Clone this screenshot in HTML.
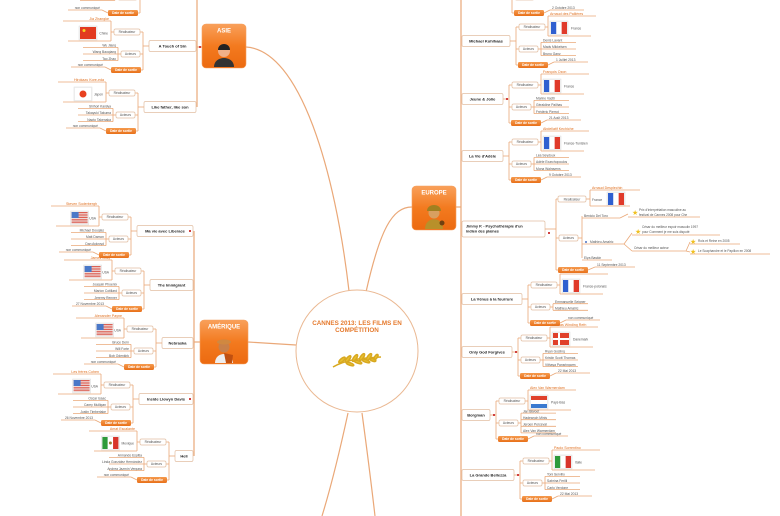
<!DOCTYPE html>
<html><head><meta charset="utf-8"><style>
html,body{margin:0;padding:0;background:#fff;width:780px;height:516px;overflow:hidden}
svg{display:block;font-family:"Liberation Sans",sans-serif}
</style></head><body>
<svg id="s" width="780" height="516" viewBox="0 0 780 516" xmlns="http://www.w3.org/2000/svg">
<defs>
<linearGradient id="og" x1="0" y1="0" x2="0" y2="1"><stop offset="0" stop-color="#f9a05a"/><stop offset="0.5" stop-color="#f37a1f"/><stop offset="1" stop-color="#ec6a10"/></linearGradient>
<linearGradient id="db" x1="0" y1="0" x2="0" y2="1"><stop offset="0" stop-color="#f59a4e"/><stop offset="1" stop-color="#e8701a"/></linearGradient>
</defs>
<g fill="none" stroke="#eaa878" stroke-width="1.2">
<path d="M349,291 C335,170 300,50 246,47"/>
<path d="M366,292 C380,230 392,207 412,207"/>
<path d="M296,345 L248,342"/>
<path d="M348,413 C340,450 330,490 322,516"/>
<path d="M362,413 C367,450 372,490 375,516"/>
<line x1="197" y1="0" x2="197" y2="107"/><line x1="197" y1="47" x2="202" y2="47"/>
<line x1="194" y1="231" x2="194" y2="456"/><line x1="194" y1="342" x2="200" y2="342"/>
<line x1="461" y1="0" x2="461" y2="516"/><line x1="456" y1="207" x2="461" y2="207"/>
</g>
<circle cx="357" cy="351" r="61" fill="#fff" stroke="#eab892" stroke-width="1"/>
<text x="357" y="325" font-size="6.3" font-weight="bold" fill="#e57a2e" text-anchor="middle">CANNES 2013: LES FILMS EN</text>
<text x="357" y="332" font-size="6.3" font-weight="bold" fill="#e57a2e" text-anchor="middle">COMPÉTITION</text>
<g stroke="#d8a820" stroke-width="1.5" fill="#e8c030">
<path d="M333,367 C345,360 360,358 381,357" fill="none"/>
<ellipse cx="342" cy="360" rx="4" ry="1.5" transform="rotate(-40 342 360)"/>
<ellipse cx="348" cy="359" rx="4" ry="1.5" transform="rotate(-50 348 359)"/>
<ellipse cx="355" cy="358" rx="4" ry="1.5" transform="rotate(-55 355 358)"/>
<ellipse cx="362" cy="357" rx="4" ry="1.5" transform="rotate(-55 362 357)"/>
<ellipse cx="369" cy="357" rx="4" ry="1.5" transform="rotate(-55 369 357)"/>
<ellipse cx="376" cy="357" rx="3" ry="1.3" transform="rotate(-55 376 357)"/>
<ellipse cx="350" cy="364" rx="4" ry="1.3" transform="rotate(20 350 364)"/>
<ellipse cx="358" cy="362" rx="4" ry="1.3" transform="rotate(20 358 362)"/>
<ellipse cx="366" cy="361" rx="4" ry="1.3" transform="rotate(20 366 361)"/>
<ellipse cx="373" cy="360" rx="3" ry="1.2" transform="rotate(20 373 360)"/>
</g>
</svg>
<script>
const S=document.getElementById('s'),NS='http://www.w3.org/2000/svg';
function el(t,a,txt){const e=document.createElementNS(NS,t);for(const k in a)e.setAttribute(k,a[k]);if(txt!==undefined)e.textContent=txt;S.appendChild(e);return e;}
const LC='#eaa878',BC='#e2bfa3';
function L(x1,y1,x2,y2,c){el('line',{x1,y1,x2,y2,stroke:c||LC,'stroke-width':0.8});}
function R(x,y,w,h,f,s){el('rect',{x,y,width:w,height:h,rx:1.5,fill:f||'#fff',stroke:s||BC,'stroke-width':0.7});}
function T(x,y,s,o){o=o||{};el('text',{x,y,'font-size':o.fs||3.6,fill:o.c||'#555','font-weight':o.b?'bold':'normal','text-anchor':o.a||'start'},s);}
function flag(x,y,k){const w=16,h=12;
 el('rect',{x:x-1,y:y-1,width:w+2,height:h+2,fill:'#f2f2f2',stroke:'#ddd','stroke-width':0.5});
 if(k=='fr'||k=='it'||k=='mx'){const c=k=='fr'?['#2f5fd0','#fff','#e03a2a']:['#2e9a3a','#fff','#d8342a'];for(let i=0;i<3;i++)el('rect',{x:x+i*w/3,y,width:w/3,height:h,fill:c[i]});if(k=='mx')el('circle',{cx:x+8,cy:y+6,r:1.5,fill:'#9a7a30'});}
 else if(k=='us'){for(let i=0;i<7;i++)el('rect',{x,y:y+i*h/7,width:w,height:h/14,fill:'#d8483a'});el('rect',{x,y,width:7,height:6,fill:'#4a78c8'});}
 else if(k=='cn'){el('rect',{x,y,width:w,height:h,fill:'#e23a20'});el('circle',{cx:x+4,cy:y+3.5,r:1.5,fill:'#f8d020'});}
 else if(k=='jp'){el('rect',{x,y,width:w,height:h,fill:'#fff'});el('circle',{cx:x+8,cy:y+6,r:3.5,fill:'#e8401f'});}
 else if(k=='dk'){el('rect',{x,y,width:w,height:h,fill:'#e0402a'});el('rect',{x:x+5,y,width:2,height:h,fill:'#fff'});el('rect',{x,y:y+5,width:w,height:2,fill:'#fff'});}
 else if(k=='nl'){el('rect',{x,y,width:w,height:4,fill:'#e0402a'});el('rect',{x,y:y+4,width:w,height:4,fill:'#fff'});el('rect',{x,y:y+8,width:w,height:4,fill:'#3a7ad0'});}
}
function film(sp,sd,y,title,w,dir,country,fk,actors,date,lines){
 const X=(d,ww)=>sd>0?sp+d:sp-d-(ww||0);
 const A=sd>0?'start':'end';
 const fx=X(1,w);
 R(fx,y-5.5,w,11);
 T(fx+w/2,y+1.4,title,{b:1,fs:4,c:'#222',a:'middle'});
 const b=1+w+6;
 L(X(1+w),y,X(b),y);
 L(X(b),y-14,X(b),y+24);
 L(X(b),y-14,X(b+3),y-14);
 R(X(b+3,26),y-17,26,6);T(X(b+3,26)+13,y-12.8,'Réalisateur',{a:'middle',fs:3.3});
 L(X(b+29),y-14,X(b+32),y-14);L(X(b+32),y-25,X(b+32),y-5);
 T(X(b+34),y-26,dir,{c:'#e07020',a:A});L(X(b+32),y-25,X(b+80),y-25);
 if(sd>0){flag(X(b+35,16),y-19,fk);T(X(b+55),y-11.5,country,{a:A,fs:3.3});}
 else{T(X(b+35),y-11.5,country,{a:A,fs:3.3});flag(X(b+35+country.length*1.8+3,16),y-19,fk);}
 L(X(b+32),y-5,X(b+75),y-5);
 L(X(b),y+8,X(b+3),y+8);
 R(X(b+3,19),y+5,19,6);T(X(b+3,19)+9.5,y+9.2,'Acteurs',{a:'middle',fs:3.3});
 const n=actors.length,y0=y+8-(n-1)*3.3;
 L(X(b+22),y+8,X(b+25),y+8);L(X(b+25),y0,X(b+25),y0+(n-1)*6.6);
 actors.forEach((a,i)=>{const yy=y0+i*6.6;T(X(b+27),yy-0.8,a,{a:A,fs:3.3});L(X(b+25),yy,X(b+60),yy);});
 L(X(b),y+24,X(b+2),y+24);
 el('rect',{x:X(b+2,30),y:y+21,width:30,height:6,rx:1.5,fill:'url(#db)'});
 T(X(b+2,30)+15,y+25.2,'Date de sortie',{a:'middle',fs:3.3,c:'#fff',b:1});
 L(X(b+32),y+24,X(b+38),y+21);T(X(b+40),y+20,date,{a:A,fs:3.3});L(X(b+38),y+21,X(b+72),y+21);
}
function cat(x,y,w,h,label,kind){
 el('rect',{x,y,width:w,height:h,rx:4,fill:'url(#og)',stroke:'#f5a060','stroke-width':0.6});
 T(x+w/2,y+8.5,label,{a:'middle',fs:6,c:'#fff',b:1});
 const cx=x+w/2,cy=y+h/2+5;
 if(kind==0){el('path',{d:`M${cx-10},${cy+16} C${cx-10},${cy+4} ${cx+10},${cy+4} ${cx+10},${cy+16}Z`,fill:'#333'});el('circle',{cx,cy:cy,r:6,fill:'#f0b088'});el('path',{d:`M${cx-6},${cy-1} C${cx-6},${cy-9} ${cx+6},${cy-9} ${cx+6},${cy-1}Z`,fill:'#222'});}
 else if(kind==1){el('path',{d:`M${cx-9},${cy+16} C${cx-9},${cy+4} ${cx+9},${cy+4} ${cx+9},${cy+16}Z`,fill:'#eee'});el('path',{d:`M${cx},${cy+6} L${cx+9},${cy+8} L${cx+8},${cy+16} L${cx+2},${cy+16}Z`,fill:'#c05010'});el('circle',{cx,cy:cy,r:5.5,fill:'#c8804a'});el('ellipse',{cx,cy:cy-5,rx:7,ry:2.5,fill:'#d08840'});}
 else {el('path',{d:`M${cx-9},${cy+16} C${cx-9},${cy+3} ${cx+9},${cy+3} ${cx+9},${cy+16}Z`,fill:'#b8902a'});el('circle',{cx,cy:cy,r:5.5,fill:'#d8a060'});el('path',{d:`M${cx-7},${cy-2} C${cx-7},${cy-10} ${cx+7},${cy-10} ${cx+7},${cy-2}Z`,fill:'#a08020'});el('circle',{cx:cx+8,cy:cy+10,r:2.5,fill:'#704010'});}
}
cat(202,24,44,44,'ASIE',0);
cat(200,320,48,44,'AMÉRIQUE',1);
cat(412,186,44,44,'EUROPE',2);
film(197,-1,-11,'Film',50,'Hirokazu','Japon','jp',['Masaharu Fukuyama','Takao Osawa'],'non communiqué');
film(197,-1,46,'A Touch of Sin',47,'Jia Zhangke','Chine','cn',['Wu Jiang','Wang Baoqiang','Tao Zhao'],'non communiqué');
film(197,-1,107,'Like father, like son',52,'Hirokazu Kore-eda','Japon','jp',['Shihori Kanjiya','Takayuki Takuma','Naoto Takenaka'],'non communiqué');
film(194,-1,231,'Ma vie avec Liberace',56,'Steven Soderbergh','USA','us',['Michael Douglas','Matt Damon','Dan Aykroyd'],'non communiqué');
film(194,-1,285,'The Immigrant',43,'James Gray','USA','us',['Joaquin Phoenix','Marion Cotillard','Jeremy Renner'],'27 Novembre 2013');
film(194,-1,343,'Nebraska',31,'Alexander Payne','USA','us',['Bruce Dern','Will Forte','Bob Odenkirk'],'non communiqué');
film(194,-1,399,'Inside Llewyn Davis',54,'Les frères Cohen','USA','us',['Oscar Isaac','Carey Mulligan','Justin Timberlake'],'26 Novembre 2013');
film(194,-1,456,'Heli',18,'Amat Escalante','Mexique','mx',['Armando Espitia','Linda González Hernández','Andrea Jazmín Vergara'],'non communiqué');
film(461,1,-11,'Film',44,'Réalisateur','France','fr',['Acteur'],'2 Octobre 2013');
film(461,1,41,'Michael Kohlhaas',48,'Arnaud des Pallières','France','fr',['Denis Lavant','Mads Mikkelsen','Bruno Ganz'],'1 Juillet 2013');
film(461,1,99,'Jeune & Jolie',41,'François Ozon','France','fr',['Marine Vacth','Géraldine Pailhas','Frédéric Pierrot'],'21 Août 2013');
film(461,1,156,"La Vie d'Adèle",41,'Abdellatif Kechiche','France-Tunisien','fr',['Léa Seydoux','Adèle Exarchopoulos','Mona Walravens'],'9 Octobre 2013');
film(461,1,299,'La Vénus à la fourrure',60,'Roman Polanski','France-polonais','fr',['Emmanuelle Seigner','Mathieu Amalric'],'non communiqué');
film(461,1,352,'Only God Forgives',50,'Nicolas Winding Refn','Danemark','dk',['Ryan Gosling','Kristin Scott Thomas','Vithaya Pansringarm'],'22 Mai 2013');
film(461,1,415,'Borgman',28,'Alex Van Warmerdam','Pays-Bas','nl',['Jan Bijvoet','Hadewych Minis','Jeroen Perceval','Alex Van Warmerdam'],'non communiqué');
film(461,1,475,'La Grande Bellezza',52,'Paolo Sorrentino','Italie','it',['Toni Servillo','Sabrina Ferilli','Carlo Verdone'],'22 Mai 2013');
(function(){const y=229;R(462,y-8,83,16);T(466,y-1.5,'Jimmy P. - Psychothérapie d\'un',{b:1,fs:3.8,c:'#222'});T(466,y+3.5,'indien des plaines',{b:1,fs:3.8,c:'#222'});
 L(545,y,556,y);L(556,199,556,270);
 L(556,199,558,199);R(558,196,28,6);T(572,200.3,'Réalisateur',{a:'middle',fs:3.3});
 L(586,199,590,199);L(590,190,590,206);T(592,189,'Arnaud Desplechin',{c:'#e07020'});L(590,190,640,190);
 T(592,201,'France',{fs:3.3});flag(608,193,'fr');L(590,206,630,206);
 L(556,238,559,238);R(559,235,19,6);T(568.5,239.2,'Acteurs',{a:'middle',fs:3.3});
 L(578,238,582,238);L(582,216,582,258);
 T(584,217,'Benicio Del Toro',{fs:3.3});L(582,218,620,218);L(620,218,628,214);
 el('text',{x:632,y:215,'font-size':7,fill:'#f0c020'},'★');T(639,211,"Prix d'interprétation masculine au",{fs:3.2});T(639,216,'festival de Cannes 2008 pour Che',{fs:3.2});L(628,217,700,217);
 T(590,243,'Mathieu Amalric',{fs:3.3});el('circle',{cx:586,cy:242,r:1,fill:'#4a70c0'});L(582,244,624,244);L(624,244,632,233);L(624,244,632,251);
 el('text',{x:635,y:234,'font-size':7,fill:'#f0c020'},'★');T(642,228,'César du meilleur espoir masculin 1997',{fs:3.2});T(642,233,'pour Comment je me suis disputé',{fs:3.2});L(632,235,720,235);
 T(634,249,'César du meilleur acteur',{fs:3.2});L(632,251,686,251);L(686,251,690,242);L(686,251,690,252);
 el('text',{x:690,y:244,'font-size':7,fill:'#f0c020'},'★');T(698,242,'Rois et Reine en 2005',{fs:3.2});L(690,244,740,244);
 el('text',{x:690,y:254,'font-size':7,fill:'#f0c020'},'★');T(698,252,'Le Scaphandre et le Papillon en 2008',{fs:3.2});L(690,254,770,254);
 T(584,259,'Elya Baskin',{fs:3.3});L(582,260,612,260);
 L(556,270,558,270);el('rect',{x:558,y:267,width:30,height:6,rx:1.5,fill:'url(#db)'});T(573,271.2,'Date de sortie',{a:'middle',fs:3.3,c:'#fff',b:1});
 L(588,270,595,267);T(597,266,'11 Septembre 2013',{fs:3.3});L(595,267,635,267);
})();
[[200,47],[190,231],[190,399],[507,99],[549,233],[516,352],[494,415],[518,475]].forEach(p=>el('rect',{x:p[0]-1,y:p[1]-1,width:2,height:2,fill:'#d04040'}));
</script>
</body></html>
